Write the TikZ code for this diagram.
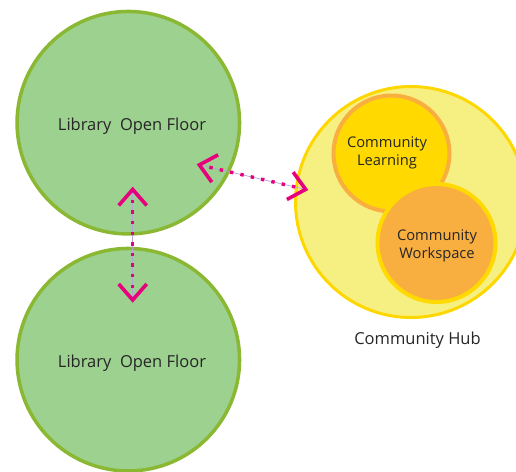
\documentclass[tikz,border=0pt]{standalone}
\usepackage{fontspec}
\setmainfont{Open Sans}
\usetikzlibrary{arrows.meta}
\definecolor{floorfill}{RGB}{157,209,143}
\definecolor{floorline}{RGB}{138,184,51}
\definecolor{hubfill}{RGB}{246,240,130}
\definecolor{hubline}{RGB}{255,215,0}
\definecolor{learnfill}{RGB}{255,217,0}
\definecolor{learnline}{RGB}{249,174,64}
\definecolor{workfill}{RGB}{249,174,64}
\definecolor{workline}{RGB}{255,217,0}
\definecolor{linkpink}{RGB}{230,0,126}
\definecolor{linkline}{RGB}{175,165,215}
\definecolor{textgray}{RGB}{38,38,38}
\tikzset{
  floor/.style={circle,inner sep=0pt,minimum size=222.5pt,fill=floorfill,draw=floorline,line width=3.5pt},
  hub/.style={circle,inner sep=0pt,minimum size=231pt,fill=hubfill,draw=hubline,line width=3pt},
  part/.style={circle,inner sep=0pt,minimum size=116pt,line width=4pt},
  bigtext/.style={text=textgray,font=\fontsize{16.5}{20}\selectfont},
  smalltext/.style={text=textgray,align=center,font=\fontsize{14.7}{18.5}\selectfont},
  link/.style={draw=linkline,line width=0.7pt,>={Straight Barb[color=linkpink,length=16pt,width=28pt,line width=3.6pt]},<->},
  dots/.style={draw=linkpink,line width=3.4pt,dash pattern=on 3.4pt off 7.2pt,shorten <=13pt,shorten >=13pt}
}
\begin{document}
\begin{tikzpicture}[x=1pt,y=-1pt]
\useasboundingbox (0,0) rectangle (516,471);

% library floors
\node[floor] (floor1) at (128.3,122.7) {};
\node[floor] (floor2) at (128.3,359.7) {};
\node[bigtext] (floortext1) at (132,126) {Library\ \ Open Floor};
\node[bigtext] (floortext2) at (132,363) {Library\ \ Open Floor};

% community hub
\node[hub] (hub) at (411,202) {};
\node[part,fill=learnfill,draw=learnline] (learn) at (391.5,153.5) {};
\node[part,fill=workfill,draw=workline,minimum size=118pt] (work) at (436.5,243) {};
\node[smalltext] (learntext) at (387,153) {Community\\Learning};
\node[smalltext] (worktext) at (437,246) {Community\\Workspace};
\node[bigtext] (hubtext) at (417.5,340) {Community Hub};

% links
\coordinate (vtop) at (132.7,186.7);
\coordinate (vbot) at (132.7,302.7);
\coordinate (dleft) at (196.7,164.3);
\coordinate (dright) at (308.3,190);
\draw[link] (vtop) -- (vbot);
\draw[dots] (vtop) -- (vbot);
\draw[link] (dleft) -- (dright);
\draw[dots] (dleft) -- (dright);

\end{tikzpicture}
\end{document}
